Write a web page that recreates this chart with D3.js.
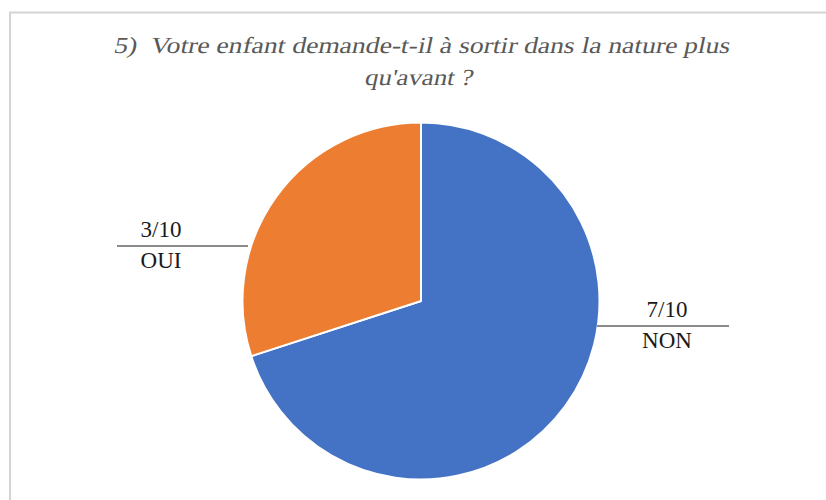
<!DOCTYPE html>
<html><head><meta charset="utf-8">
<script src="https://cdn.jsdelivr.net/npm/d3@7"></script>
<style>body{margin:0;background:#fff}svg{display:block}
.ttl{font-family:"Liberation Serif",serif;font-style:normal;font-size:23px;fill:#595959}
.lbl{font-family:"Liberation Serif",serif;font-size:23px;fill:#1a1a1a}
</style>
</head><body>
<svg id="c" width="826" height="500"></svg>
<script>
const categories = ["NON", "OUI"];
const values = [7, 3];
const valueLabels = ["7/10", "3/10"];
const colors = ["#4472C4", "#ED7D31"];
const titleLines = ["5)  Votre enfant demande-t-il à sortir dans la nature plus", "qu'avant ?"];

const svg = d3.select("#c");
svg.append("rect").attr("x", 10).attr("y", 12.5).attr("width", 830).attr("height", 500)
  .attr("fill", "#fff").attr("stroke", "#d4d4d4").attr("stroke-width", 2);

const tY = [53, 85];
const tX = [421, 418];
const tLen = [616, 108];
titleLines.forEach((t, i) => {
  svg.append("g").attr("transform", `translate(${tX[i]},${tY[i]}) skewX(-12)`)
    .append("text").attr("class", "ttl").attr("x", 0).attr("y", 0)
    .attr("text-anchor", "middle").style("white-space", "pre")
    .attr("textLength", tLen[i]).attr("lengthAdjust", "spacingAndGlyphs").text(t);
});

const cx = 421, cy = 301, r = 178.5;
const pie = d3.pie().sort(null).value(d => d)(values);
const arc = d3.arc().innerRadius(0).outerRadius(r);
const g = svg.append("g").attr("transform", `translate(${cx},${cy})`);
g.selectAll("path").data(pie).join("path")
  .attr("d", arc).attr("fill", (d, i) => colors[i])
  .attr("stroke", "#fff").attr("stroke-width", 2).attr("stroke-linejoin", "round");

const labelPos = [
  {x1: 597, x2: 729, y: 326, tx: 667},
  {x1: 117, x2: 248, y: 246, tx: 161}
];
categories.forEach((c, i) => {
  const p = labelPos[i];
  svg.append("line").attr("x1", p.x1).attr("x2", p.x2).attr("y1", p.y).attr("y2", p.y)
    .attr("stroke", "#1a1a1a").attr("stroke-width", 1.2);
  svg.append("text").attr("class", "lbl").attr("x", p.tx).attr("y", p.y - 9)
    .attr("text-anchor", "middle").text(valueLabels[i]);
  svg.append("text").attr("class", "lbl").attr("x", p.tx).attr("y", p.y + 22)
    .attr("text-anchor", "middle").text(c);
});
</script>
</body></html>
